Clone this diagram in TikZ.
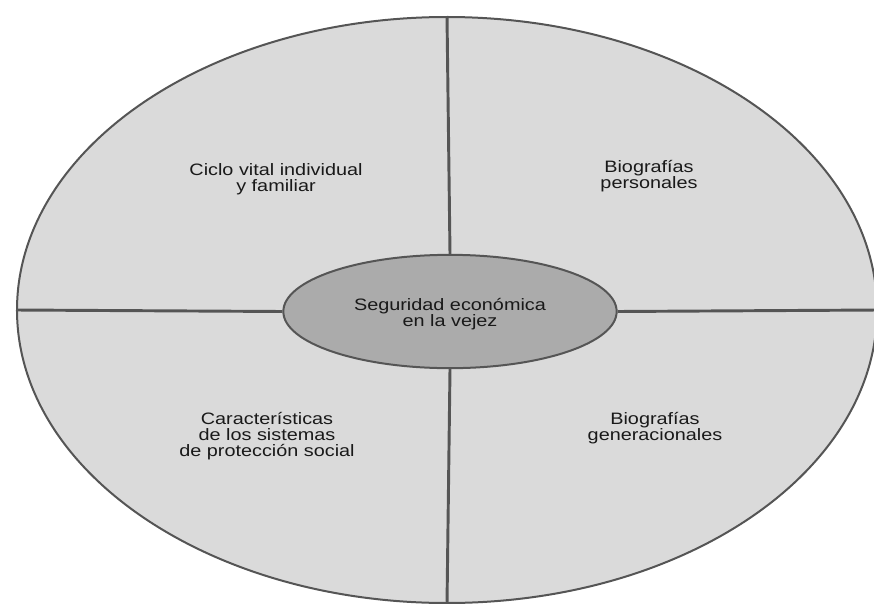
\documentclass[tikz,border=0pt]{standalone}
\usepackage{fontspec}
\setmainfont{Liberation Sans}[FakeStretch=1.2]
\usetikzlibrary{shapes.geometric}
\definecolor{lightfill}{HTML}{DADADA}
\definecolor{darkfill}{HTML}{ABABAB}
\definecolor{edge}{HTML}{555555}
\tikzset{
  label/.style={align=center, text=black!90, font=\fontsize{12.4}{12}\selectfont, inner sep=0pt},
  divider/.style={draw=edge, line width=2.2pt},
}
\begin{document}
\begin{tikzpicture}[x=0.75pt,y=-0.75pt]
\useasboundingbox (0,0) rectangle (874,603);
\node (outer) [ellipse, draw=edge, line width=1.5pt, fill=lightfill, minimum width=645pt, minimum height=439.5pt, inner sep=0pt] at (447,310) {};
\node (center) [ellipse, draw=edge, line width=1.5pt, fill=darkfill, minimum width=250pt, minimum height=85pt, inner sep=0pt] at (450,311.5) {};
\draw[divider] (outer.north) -- (center.north);
\draw[divider] (center.south) -- (outer.south);
\draw[divider] (outer.west) -- (center.west);
\draw[divider] (center.east) -- (outer.east);
\node (ctext) [label] at (450,314) {Seguridad económica\\en la vejez};
\node (ciclo) [label] at (276,179) {Ciclo vital individual\\y familiar};
\node (biop) [label] at (649,176) {Biografías\\personales};
\node (carac) [label] at (267,436) {Características\\de los sistemas\\de protección social};
\node (biog) [label] at (655,428) {Biografías\\generacionales};
\end{tikzpicture}
\end{document}
